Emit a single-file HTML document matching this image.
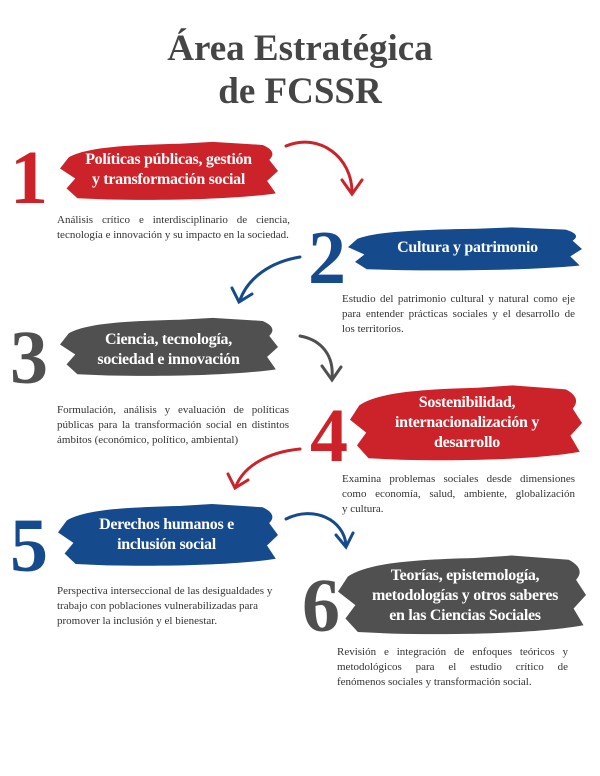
<!DOCTYPE html>
<html><head><meta charset="utf-8"><style>
body{margin:0;background:#fff;}
#p{position:relative;width:600px;height:776px;overflow:hidden;font-family:"Liberation Serif",serif;}
.a{position:absolute;}
.t{position:absolute;width:600px;text-align:center;font-weight:bold;color:#454545;font-size:37px;}
.n{position:absolute;font-weight:bold;font-size:76px;line-height:76px;}
.bt{position:absolute;color:#fff;font-weight:bold;font-size:16px;line-height:20px;text-align:center;letter-spacing:-0.3px;display:flex;align-items:center;justify-content:center;}
.d{position:absolute;font-size:11px;line-height:15px;color:#333;}
.d div{white-space:nowrap;}
.d .j{text-align:justify;text-align-last:justify;}
.r{color:#cc2229}.bl{color:#154a8c}.g{color:#505050}
</style></head><body><div id="p">
<div class="t" style="top:27px;">Área Estratégica</div>
<div class="t" style="top:70px;">de FCSSR</div>

<svg class="a" width="600" height="776" style="left:0;top:0">
<defs><path id="br" d="M4,28 C12,12 30,8 55,6 L70,3 L93,8 C97,14 99,22 96,32 L100,50 L95,66 L99,86 C82,95 52,98 22,96 L8,94 L3,78 L7,62 L0,46 Z"/></defs>
<g transform="translate(60,140) scale(2.18,0.62)" fill="#cc2229"><use href="#br"/></g>
<g transform="translate(348,226) scale(2.34,0.46)" fill="#154a8c"><use href="#br"/></g>
<g transform="translate(60,316) scale(2.18,0.62)" fill="#505050"><use href="#br"/></g>
<g transform="translate(350,383) scale(2.32,0.8)" fill="#cc2229"><use href="#br"/></g>
<g transform="translate(58,502) scale(2.2,0.66)" fill="#154a8c"><use href="#br"/></g>
<g transform="translate(338,553) scale(2.48,0.84)" fill="#505050"><use href="#br"/></g>
<g fill="none" stroke-width="3" stroke-linecap="round">
<path d="M286,146 C320,132 352,158 352,192" stroke="#cc2229"/>
<path d="M342,180 L352,194 L362,180" stroke="#cc2229"/>
<path d="M300,257 C270,262 248,278 240,300" stroke="#154a8c"/>
<path d="M232,288 L239,302 L252,294" stroke="#154a8c"/>
<path d="M300,336 C322,340 334,356 332,378" stroke="#505050"/>
<path d="M322,366 L332,380 L341,367" stroke="#505050"/>
<path d="M300,449 C268,452 244,466 236,486" stroke="#cc2229"/>
<path d="M228,474 L235,488 L248,480" stroke="#cc2229"/>
<path d="M286,519 C314,505 344,520 346,545" stroke="#154a8c"/>
<path d="M336,535 L346,547 L353,533" stroke="#154a8c"/>
</g>
</svg>

<div class="n r" style="left:10px;top:140px;">1</div>
<div class="bt" style="left:66px;top:148px;width:205px;height:44px;">Políticas públicas, gestión<br>y transformación social</div>
<div class="d" style="left:57px;top:213px;width:233px;"><div class="j">Análisis crítico e interdisciplinario de ciencia,</div><div>tecnología e innovación y su impacto en la sociedad.</div></div>

<div class="n bl" style="left:308px;top:220px;">2</div>
<div class="bt" style="left:355px;top:236px;width:225px;height:24px;">Cultura y patrimonio</div>
<div class="d" style="left:342px;top:292px;width:233px;"><div class="j">Estudio del patrimonio cultural y natural como eje</div><div class="j">para entender prácticas sociales y el desarrollo de</div><div>los territorios.</div></div>

<div class="n g" style="left:10px;top:320px;">3</div>
<div class="bt" style="left:66px;top:328px;width:205px;height:44px;">Ciencia, tecnología,<br>sociedad e innovación</div>
<div class="d" style="left:57px;top:403px;width:232px;"><div class="j">Formulación, análisis y evaluación de políticas</div><div class="j">públicas para la transformación social en distintos</div><div>ámbitos (económico, político, ambiental)</div></div>

<div class="n r" style="left:310px;top:398px;">4</div>
<div class="bt" style="left:356px;top:392px;width:222px;height:62px;">Sostenibilidad,<br>internacionalización y<br>desarrollo</div>
<div class="d" style="left:342px;top:472px;width:233px;"><div class="j">Examina problemas sociales desde dimensiones</div><div class="j">como economía, salud, ambiente, globalización</div><div>y cultura.</div></div>

<div class="n bl" style="left:10px;top:508px;">5</div>
<div class="bt" style="left:64px;top:514px;width:205px;height:42px;">Derechos humanos e<br>inclusión social</div>
<div class="d" style="left:57px;top:584px;width:230px;"><div>Perspectiva interseccional de las desigualdades y</div><div>trabajo con poblaciones vulnerabilizadas para</div><div>promover la inclusión y el bienestar.</div></div>

<div class="n g" style="left:302px;top:568px;">6</div>
<div class="bt" style="left:346px;top:565px;width:238px;height:62px;">Teorías, epistemología,<br>metodologías y otros saberes<br>en las Ciencias Sociales</div>
<div class="d" style="left:337px;top:645px;width:231px;"><div class="j">Revisión e integración de enfoques teóricos y</div><div class="j">metodológicos para el estudio crítico de</div><div>fenómenos sociales y transformación social.</div></div>
</div></body></html>
